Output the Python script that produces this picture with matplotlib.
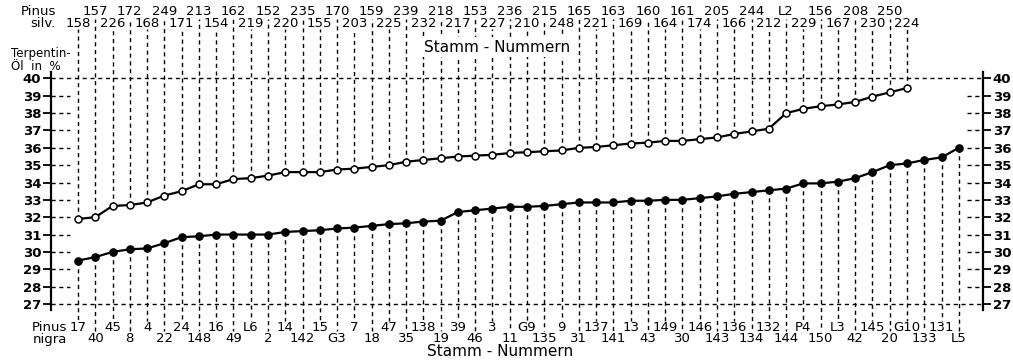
import matplotlib
matplotlib.use("Agg")
import matplotlib.pyplot as plt
import matplotlib.transforms as mtransforms
import numpy as np

# ---- data ----
silv_labels = ['158', '157', '226', '172', '168', '249', '171', '213', '154', '162',
               '219', '152', '220', '235', '155', '170', '203', '159', '225', '239',
               '232', '218', '217', '153', '227', '236', '210', '215', '248', '165',
               '221', '163', '169', '160', '164', '161', '174', '205', '166', '244',
               '212', 'L2', '229', '156', '167', '208', '230', '250', '224']
silv_values = [31.9, 32.0, 32.65, 32.7, 32.85, 33.25, 33.5, 33.9, 33.9, 34.2,
               34.25, 34.4, 34.6, 34.6, 34.6, 34.75, 34.8, 34.9, 35.0, 35.2,
               35.3, 35.4, 35.5, 35.55, 35.6, 35.7, 35.75, 35.8, 35.85, 36.0,
               36.05, 36.15, 36.25, 36.3, 36.4, 36.4, 36.5, 36.6, 36.8, 36.95,
               37.1, 38.0, 38.25, 38.4, 38.5, 38.65, 38.95, 39.2, 39.45]

nigra_labels = ['17', '40', '45', '8', '4', '22', '24', '148', '16', '49',
                'L6', '2', '14', '142', '15', 'G3', '7', '18', '47', '35',
                '138', '19', '39', '46', '3', '11', 'G9', '135', '9', '31',
                '137', '141', '13', '43', '149', '30', '146', '143', '136', '134',
                '132', '144', 'P4', '150', 'L3', '42', '145', '20', 'G10', '133',
                '131', 'L5']
nigra_values = [29.5, 29.7, 30.0, 30.15, 30.2, 30.5, 30.85, 30.9, 31.0, 31.0,
                31.0, 31.0, 31.15, 31.2, 31.25, 31.35, 31.4, 31.5, 31.6, 31.65,
                31.75, 31.8, 32.3, 32.4, 32.5, 32.6, 32.6, 32.65, 32.75, 32.85,
                32.85, 32.85, 32.95, 32.95, 33.0, 33.0, 33.1, 33.2, 33.35, 33.45,
                33.55, 33.65, 33.95, 33.95, 34.05, 34.25, 34.6, 35.0, 35.1, 35.3,
                35.45, 36.0]

y_ticks = list(range(27, 41))

# ---- layout ----
W, H = 1013, 363
fig = plt.figure(figsize=(W / 100, H / 100), dpi=100)
ax_left, ax_right, ax_top, ax_bot = 51, 983, 72.4, 310
ax = fig.add_axes([ax_left / W, 1 - ax_bot / H, (ax_right - ax_left) / W, (ax_bot - ax_top) / H])

step = 17.27
x0 = -(78 - ax_left) / step
x1 = (len(nigra_values) - 1) + (ax_right - (78 + (len(nigra_values) - 1) * step)) / step
ax.set_xlim(x0, x1)
ax.set_ylim(26.65, 40.35)
ppu = (ax_bot - ax_top) / (40.35 - 26.65)

def py2d(p):
    # pixel row -> data y
    return 40.35 - (p - ax_top) / ppu

def px_w(p):
    return p / step

for s in ['top', 'bottom']:
    ax.spines[s].set_visible(False)
for s in ['left', 'right']:
    ax.spines[s].set_linewidth(1.6)
ax.set_xticks([])
ax.set_yticks(y_ticks)
ax.tick_params(axis='y', direction='out', length=6, width=1.3, labelsize=9.5, pad=1,
               left=True, right=True, labelleft=True, labelright=True)
for t in ax.get_yticklabels():
    t.set_fontweight('bold')

dash = (0, (3.0, 2.6))
lwd = 1.0
# gridline stubs
for y in y_ticks:
    if y in (27, 40):
        ax.plot([x0, x1], [y, y], color='black', lw=lwd, ls=dash, clip_on=False)
    else:
        ax.plot([x0, x0 + px_w(19)], [y, y], color='black', lw=lwd, ls=dash)
        ax.plot([x1 - px_w(16), x1], [y, y], color='black', lw=lwd, ls=dash)

xs_s = np.arange(len(silv_values))
xs_n = np.arange(len(nigra_values))

# vertical dashed drop lines
for i, v in zip(xs_s, silv_values):
    top = py2d(18.5) if i % 2 == 1 else py2d(29)
    ax.plot([i, i], [v, top], color='black', lw=lwd, ls=dash, clip_on=False, zorder=1)
for i, v in zip(xs_n, nigra_values):
    bot = py2d(321) if i % 2 == 0 else py2d(331)
    ax.plot([i, i], [v, bot], color='black', lw=lwd, ls=dash, clip_on=False, zorder=1)

# series
ax.plot(xs_s, silv_values, color='black', lw=1.6, marker='o', markersize=5,
        markerfacecolor='white', markeredgecolor='black', markeredgewidth=1.1, zorder=3, clip_on=False)
ax.plot(xs_n, nigra_values, color='black', lw=1.6, marker='o', markersize=5.2,
        markerfacecolor='black', markeredgecolor='black', zorder=3, clip_on=False)

# labels
tr = mtransforms.blended_transform_factory(ax.transData, fig.transFigure)
fs = 9.5
for i, lab in zip(xs_s, silv_labels):
    yy = 11.5 if i % 2 == 1 else 23.5
    ax.text(i, 1 - yy / H, lab, transform=tr, ha='center', va='center', fontsize=fs)
for i, lab in zip(xs_n, nigra_labels):
    yy = 327.5 if i % 2 == 0 else 339
    ax.text(i, 1 - yy / H, lab, transform=tr, ha='center', va='center', fontsize=fs)

fig.text(56 / W, 1 - 11.5 / H, 'Pinus', ha='right', va='center', fontsize=fs)
fig.text(56 / W, 1 - 23.5 / H, 'silv.', ha='right', va='center', fontsize=fs)
fig.text(32 / W, 1 - 327.5 / H, 'Pinus', ha='left', va='center', fontsize=fs)
fig.text(33 / W, 1 - 339 / H, 'nigra', ha='left', va='center', fontsize=fs)
fig.text(11 / W, 1 - 53 / H, 'Terpentin-', ha='left', va='center', fontsize=8.5)
fig.text(11 / W, 1 - 66 / H, 'Öl  in  %', ha='left', va='center', fontsize=8.5)
ax.text(0.5 * (x0 + x1) - px_w(20), 1 - 47 / H, 'Stamm - Nummern', transform=tr,
        ha='center', va='center', fontsize=11, zorder=5,
        bbox=dict(facecolor='white', edgecolor='none', pad=1.5))
fig.text(500 / W, 1 - 352 / H, 'Stamm - Nummern', ha='center', va='center', fontsize=11)

fig.savefig('out.png', dpi=100, facecolor='white')
